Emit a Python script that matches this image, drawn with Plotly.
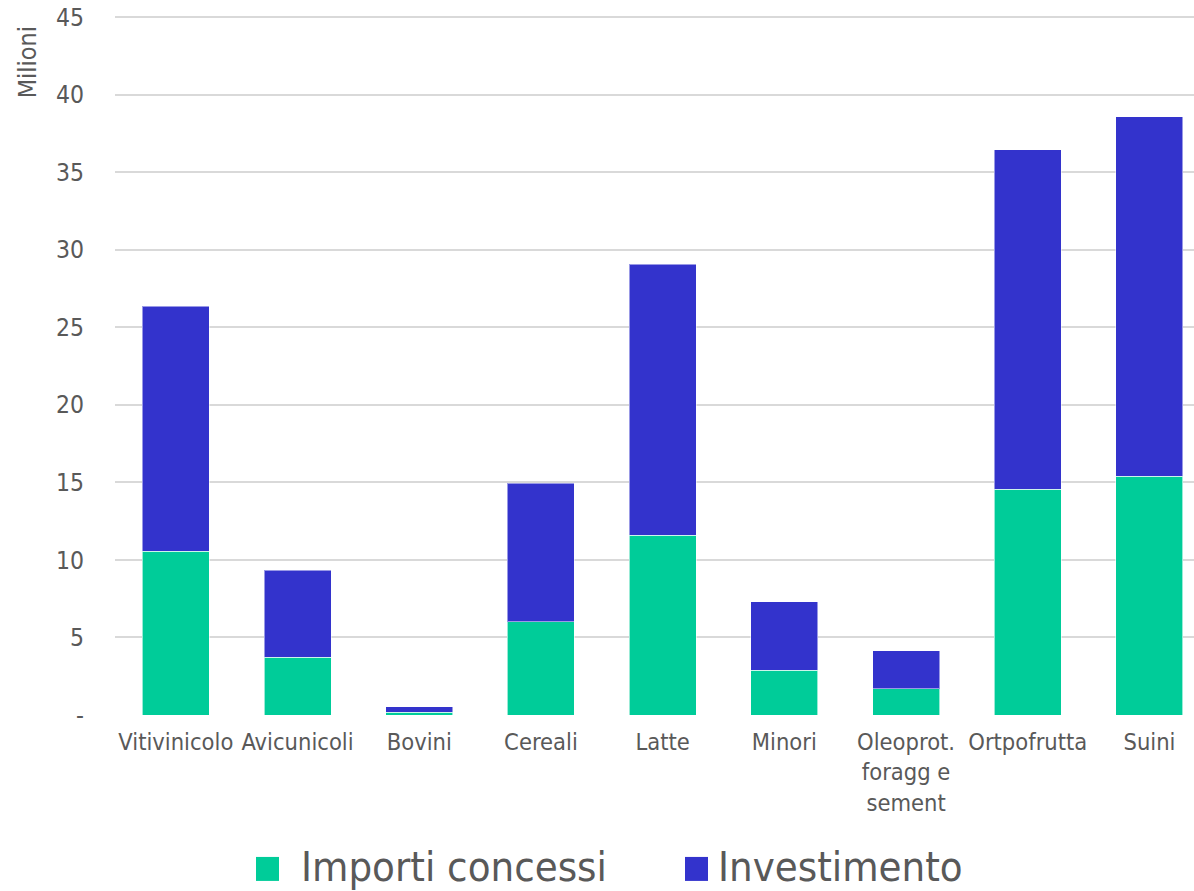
import plotly.graph_objects as go

categories = ["Vitivinicolo", "Avicunicoli", "Bovini", "Cereali", "Latte", "Minori",
              "Oleoprot.<br>foragg e<br>sement", "Ortpofrutta", "Suini"]
importi_concessi = [10.57, 3.74, 0.19, 6.0, 11.6, 2.9, 1.68, 14.57, 15.4]
investimento = [15.8, 5.61, 0.33, 8.96, 17.48, 4.39, 2.45, 21.9, 23.2]
y_tickvals = [0, 5, 10, 15, 20, 25, 30, 35, 40, 45]
y_ticktext = ["-", "5", "10", "15", "20", "25", "30", "35", "40", "45"]

GREEN = "#00CC99"
BLUE = "#3333CC"
FONT = "DejaVu Sans Condensed, Liberation Sans Narrow, DejaVu Sans, sans-serif"
TXT = "#595959"

W, H = 1194, 891
YMAX = 45.15
PXU = (715 - 17) / 45.0           # pixels per unit
L = 115
T = 17 - (YMAX - 45) * PXU
B = H - 715
PW, PH = W - L, H - T - B

fig = go.Figure()
fig.add_trace(go.Bar(x=categories, y=importi_concessi, name="Importi concessi",
                     marker=dict(color=GREEN, line=dict(color="rgba(255,255,255,0.6)", width=1)),
                     width=0.55, showlegend=False))
fig.add_trace(go.Bar(x=categories, y=investimento, name="Investimento",
                     marker=dict(color=BLUE, line=dict(color="rgba(255,255,255,0.5)", width=1)),
                     width=0.55, showlegend=False))

fig.update_layout(
    barmode="stack",
    width=W, height=H,
    margin=dict(l=L, r=0, t=T, b=B, autoexpand=False),
    plot_bgcolor="white", paper_bgcolor="white",
    font=dict(family=FONT, color=TXT, size=23),
    xaxis=dict(range=[-0.5, 8.366], showgrid=False, showline=False, zeroline=False,
               ticks="", tickfont=dict(size=23.5, color=TXT), ticklabelstandoff=10),
    yaxis=dict(range=[0, YMAX], tickvals=y_tickvals, ticktext=y_ticktext,
               showgrid=True, gridcolor="#D9D9D9", gridwidth=1.5, zeroline=False,
               showline=False, ticks="", tickfont=dict(size=24.5, color=TXT),
               ticklabelstandoff=30, ticklabeloverflow="allow"),
)

def px_x(px):
    return (px - L) / PW

def px_y(py):
    return (H - B - py) / PH

# Y-axis title
fig.add_annotation(text="Milioni", xref="paper", yref="paper", x=px_x(27), y=px_y(62),
                   xanchor="center", yanchor="middle", showarrow=False, textangle=-90,
                   font=dict(size=25, color=TXT))

# Custom legend
legend_items = [("Importi concessi", GREEN, 256, 299), ("Investimento", BLUE, 685, 716)]
for label, color, sx, tx in legend_items:
    fig.add_shape(type="rect", xref="paper", yref="paper",
                  x0=px_x(sx), x1=px_x(sx + 23), y0=px_y(881), y1=px_y(857),
                  fillcolor=color, line=dict(width=0))
    fig.add_annotation(text=label, xref="paper", yref="paper", x=px_x(tx), y=px_y(867),
                       xanchor="left", yanchor="middle", showarrow=False,
                       font=dict(size=41.5, color=TXT))

fig.write_html("out.html",
               config={"displayModeBar": False},
               post_script="document.body.style.margin='0';document.body.style.overflow='hidden';")
